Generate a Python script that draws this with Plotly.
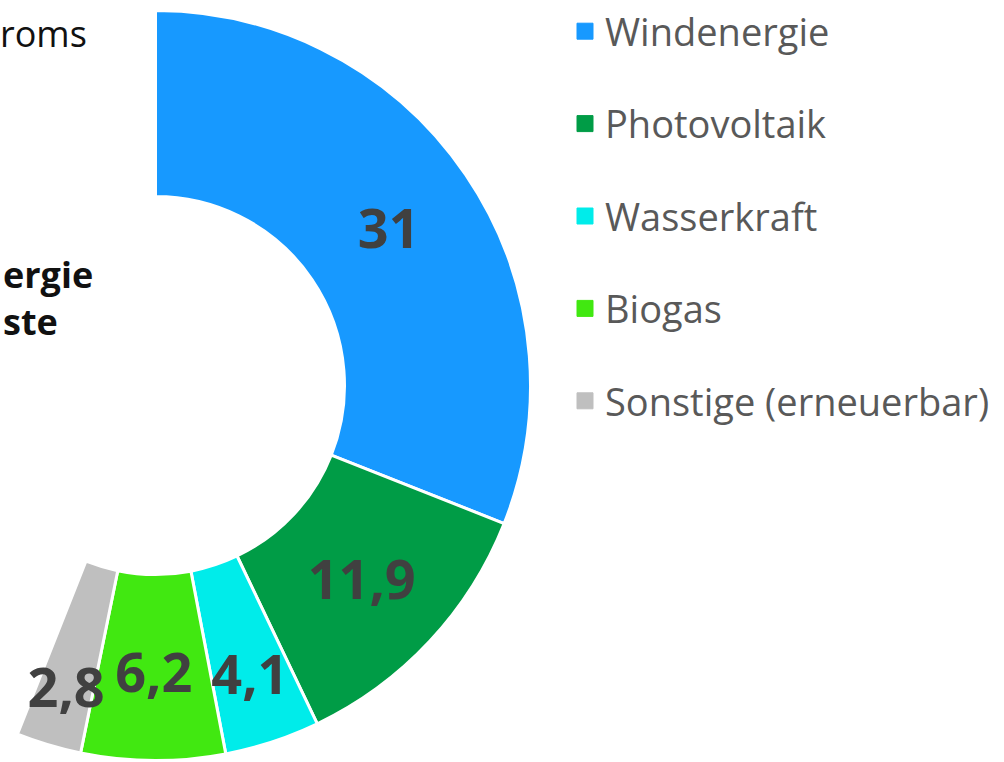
import plotly.graph_objects as go

# ---- data ----
categories = ["Windenergie", "Photovoltaik", "Wasserkraft", "Biogas", "Sonstige (erneuerbar)"]
values = [31, 11.9, 4.1, 6.2, 2.8]
colors = ["#1799FF", "#009C46", "#00ECEA", "#41E811", "#BFBFBF"]
total = 100  # percent scale; the rest of the circle stays empty

# ---- geometry (pixels in the visible page) ----
PAGE_W, PAGE_H = 1004, 762
SHIFT = 220                      # part of the figure that lies left of the page
FIG_W = PAGE_W + SHIFT
CX, CY, R = 155.5 + SHIFT, 385.5, 375
R_IN = 189

rest = total - sum(values)
pie_vals = values + [rest]
pie_cols = colors + ["rgba(0,0,0,0)"]
labels_txt = [f"{v:g}".replace(".", ",") for v in values]
big = [v >= 10 for v in values]
text_main = [t if b else "" for t, b in zip(labels_txt, big)] + [""]
text_small = [t if not b else "" for t, b in zip(labels_txt, big)] + [""]

label_font = dict(family="Open Sans", size=54, color="#404040", weight="bold")


def dom(r):
    return dict(x=[(CX - r) / FIG_W, (CX + r) / FIG_W],
                y=[(PAGE_H - (CY + r)) / PAGE_H, (PAGE_H - (CY - r)) / PAGE_H])


fig = go.Figure()
fig.add_trace(go.Pie(
    values=pie_vals,
    labels=categories + ["rest"],
    text=text_main,
    textinfo="text",
    textposition="inside",
    insidetextorientation="horizontal",
    textfont=label_font,
    marker=dict(colors=pie_cols, line=dict(color="white", width=[3, 3, 3, 3, 3, 0])),
    hole=R_IN / R,
    sort=False,
    direction="clockwise",
    rotation=0,
    showlegend=False,
    hoverinfo="skip",
    domain=dom(R),
))

# labels for the narrow slices, placed a bit further in
R2 = 0.91 * R
fig.add_trace(go.Pie(
    values=pie_vals,
    labels=categories + ["rest"],
    text=text_small,
    textinfo="text",
    textposition="inside",
    insidetextorientation="horizontal",
    textfont=label_font,
    marker=dict(colors=["rgba(0,0,0,0)"] * len(pie_vals), line=dict(width=0)),
    hole=R_IN / R2,
    sort=False,
    direction="clockwise",
    rotation=0,
    showlegend=False,
    hoverinfo="skip",
    domain=dom(R2),
))

# legend entries
for i, (name, col) in enumerate(zip(categories, colors)):
    fig.add_trace(go.Scatter(
        x=[None], y=[None], mode="markers", name=name,
        marker=dict(symbol="square", size=16, color=col, line=dict(width=1, color=col)),
        legendgroup=f"g{i}", showlegend=True, hoverinfo="skip",
    ))


def px(x):
    return (x + SHIFT) / FIG_W


def py(y):
    return 1 - y / PAGE_H


fig.add_annotation(xref="paper", yref="paper", xanchor="right", yanchor="middle",
                   showarrow=False, x=px(89), y=py(34), text="roms",
                   font=dict(family="Open Sans", size=36, color="#111111"))
fig.add_annotation(xref="paper", yref="paper", xanchor="left", yanchor="middle",
                   showarrow=False, x=px(1), y=py(298), text="<b>ergie<br>ste</b>",
                   align="left",
                   font=dict(family="Open Sans", size=36, color="#111111"))

fig.update_layout(
    width=FIG_W, height=PAGE_H,
    margin=dict(l=0, r=0, t=0, b=0),
    paper_bgcolor="white", plot_bgcolor="white",
    separators=",.",
    uniformtext=dict(minsize=54, mode="show"),
    xaxis=dict(visible=False), yaxis=dict(visible=False),
    legend=dict(x=px(565), y=1, xanchor="left", yanchor="top",
                font=dict(family="Open Sans", size=38, color="#595959"),
                tracegroupgap=40, bgcolor="rgba(0,0,0,0)", borderwidth=0),
    font=dict(family="Open Sans"),
)

post = ("document.documentElement.style.overflow='hidden';"
        "document.body.style.margin='0';document.body.style.overflow='hidden';"
        "var gd=document.getElementById('{plot_id}');"
        f"gd.style.marginLeft='-{SHIFT}px';")

fig.write_html("out.html", post_script=post, config=dict(displayModeBar=False))
